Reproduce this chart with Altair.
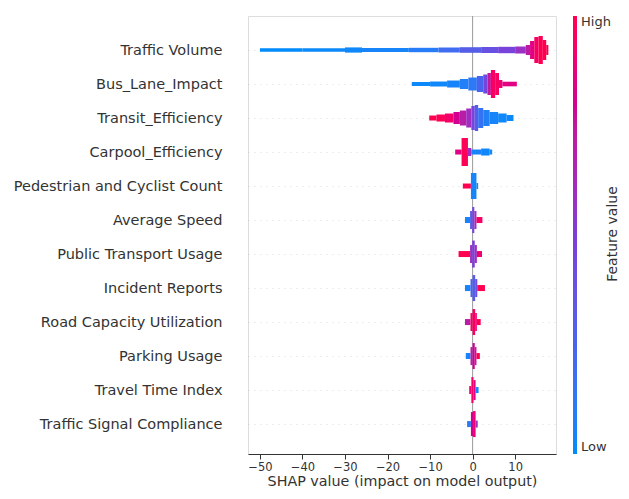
import json
import altair as alt
import pandas as pd

features = [
    "Traffic Volume", "Bus_Lane_Impact", "Transit_Efficiency", "Carpool_Efficiency",
    "Pedestrian and Cyclist Count", "Average Speed", "Public Transport Usage",
    "Incident Reports", "Road Capacity Utilization", "Parking Usage",
    "Travel Time Index", "Traffic Signal Compliance",
]

# per feature: (shap_lo, shap_hi, relative sample density, mean feature value 0..1)
traffic_volume = [(-50, -40, 1.8, 0.0), (-40, -30, 1.8, 0.02), (-30, -26, 2.6, 0.03),
                  (-26, -15, 2.0, 0.05), (-15, -8, 2.2, 0.1), (-8, -3, 2.5, 0.2),
                  (-3, 2, 2.8, 0.3), (2, 6, 3.0, 0.38), (6, 10, 3.2, 0.47), (10, 12.5, 3.5, 0.58),
                  (12.5, 13.5, 5, 0.72), (13.5, 14.5, 9, 0.85), (14.5, 15.5, 13, 0.95),
                  (15.5, 16.5, 14, 1.0), (16.5, 17.3, 10, 1.0), (17.3, 17.8, 5, 1.0)]
bus_lane_impact = [(-14.3, -10, 2, 0.02), (-10, -6, 2.5, 0.03), (-6, -3, 3.5, 0.05),
                   (-3, -1, 5, 0.08), (-1, 1, 6.5, 0.12), (1, 2.5, 8, 0.25), (2.5, 3.5, 9.5, 0.45),
                   (3.5, 4.3, 11, 0.75), (4.3, 5.3, 14, 0.95), (5.3, 6.2, 11, 0.95),
                   (6.2, 7, 4, 0.9), (7, 10.4, 2.3, 0.85)]
transit_efficiency = [(-10.2, -8.5, 2.5, 1.0), (-8.5, -6.5, 3.5, 0.98), (-6.5, -4.5, 4.5, 0.92),
                      (-4.5, -3, 6, 0.8), (-3, -1.5, 7.5, 0.7), (-1.5, -0.3, 9.5, 0.6),
                      (-0.3, 0.5, 12, 0.45), (0.5, 1.3, 13, 0.3), (1.3, 2.5, 10, 0.15),
                      (2.5, 4, 8, 0.08), (4, 6, 6, 0.05), (6, 8, 4.5, 0.03), (8, 9.6, 3, 0.02)]
carpool_efficiency = [(-4.1, -2.6, 2.5, 0.85), (-2.6, -1.1, 14, 0.98), (-1.1, -0.3, 4, 0.6),
                      (-0.3, 2, 2.5, 0.05), (2, 4, 3.5, 0.03), (4, 4.6, 2.5, 0.03)]
pedestrian_cyclist = [(-2.3, -0.4, 2.5, 1.0), (-0.4, 0.9, 13, 0.05), (0.9, 1.3, 3, 0.05)]
average_speed = [(-1.8, -0.6, 3, 0.05), (-0.6, -0.1, 9, 0.3), (-0.1, 0.4, 13, 0.45),
                 (0.4, 0.9, 9, 0.6), (0.9, 2.3, 3, 0.95)]
public_transport = [(-3.3, -0.6, 3, 1.0), (-0.6, -0.1, 9, 0.6), (-0.1, 0.5, 13.5, 0.5),
                    (0.5, 1.0, 9, 0.6), (1.0, 2.2, 3, 0.9)]
incident_reports = [(-1.8, -0.5, 3, 0.05), (-0.5, 0.0, 9, 0.25), (0.0, 0.6, 13, 0.3),
                    (0.6, 1.1, 9, 0.4), (1.1, 2.9, 3, 1.0)]
road_capacity = [(-1.8, -0.5, 3, 0.7), (-0.5, 0.0, 9, 0.95), (0.0, 0.6, 13, 0.95),
                 (0.6, 1.0, 9, 0.9), (1.0, 1.9, 3, 1.0)]
parking_usage = [(-1.6, -0.5, 3, 0.05), (-0.5, 0.0, 9, 0.7), (0.0, 0.5, 13, 0.8),
                 (0.5, 0.9, 9, 0.75), (0.9, 1.7, 3, 1.0)]
travel_time = [(-0.8, -0.3, 4, 0.9), (-0.3, 0.2, 13, 0.95), (0.2, 0.7, 10, 0.85),
               (0.7, 1.4, 3, 0.05)]
signal_compliance = [(-1.3, -0.4, 3, 0.1), (-0.4, 0.1, 12, 0.8), (0.1, 0.7, 13, 0.9),
                     (0.7, 1.2, 3.5, 0.6)]

all_bins = [traffic_volume, bus_lane_impact, transit_efficiency, carpool_efficiency,
            pedestrian_cyclist, average_speed, public_transport, incident_reports,
            road_capacity, parking_usage, travel_time, signal_compliance]

x_ticks = [-50, -40, -30, -20, -10, 0, 10]
legend_title = "Feature value"
cmap_stops = [0, 0.25, 0.5, 0.75, 1]
cmap_colors = ["#008bfb", "#4a63ec", "#7d3dd7", "#c0189c", "#ff0051"]

rows = []
for i, (name, bins) in enumerate(zip(features, all_bins)):
    for lo, hi, dens, fv in bins:
        rows.append({"feature": name, "row": i, "lo": lo, "hi": hi, "dens": dens, "fv": fv})
df = pd.DataFrame(rows)

FONT = "DejaVu Sans"
TXT = "#333333"
W, H = 308, 438
ROW_PX = 34.0

xscale = alt.Scale(domain=[-52.8, 19.6], nice=False, zero=False)
yscale = alt.Scale(domain=[-1, 11.88], reverse=True, nice=False, zero=False)

label_expr = json.dumps(features) + "[datum.value]"

swarm = alt.Chart(df).transform_calculate(
    y0=f"datum.row - datum.dens / {ROW_PX}",
    y1=f"datum.row + datum.dens / {ROW_PX}",
).mark_rect().encode(
    x=alt.X("lo:Q", scale=xscale,
            axis=alt.Axis(values=x_ticks, title="SHAP value (impact on model output)",
                          grid=False, tickSize=5, labelFontSize=11.5, labelPadding=2,
                          titleFontSize=14.3, titleFontWeight="normal", titleColor=TXT,
                          labelColor=TXT, domainColor=TXT, tickColor=TXT, titlePadding=2)),
    x2="hi:Q",
    y=alt.Y("y0:Q", scale=yscale,
            axis=alt.Axis(values=list(range(len(features))), labelExpr=label_expr,
                          title=None, domain=False, ticks=False, labelFontSize=14.5,
                          labelLimit=500, labelColor=TXT, labelPadding=26, grid=True,
                          gridDash=[1, 5], gridColor="#cccccc", gridWidth=0.7)),
    y2="y1:Q",
    color=alt.Color("fv:Q",
                    scale=alt.Scale(domain=cmap_stops, range=cmap_colors),
                    legend=alt.Legend(title=None, values=[0, 1],
                                      labelExpr="datum.value == 1 ? 'High' : 'Low'",
                                      gradientLength=H, gradientThickness=4,
                                      gradientStrokeWidth=0, labelFontSize=13,
                                      labelBaseline="middle",
                                      labelColor=TXT, offset=17, labelOffset=4)),
)

zero = alt.Chart(pd.DataFrame({"z": [0]})).mark_rule(color="#999999", strokeWidth=1).encode(
    x=alt.X("z:Q", scale=xscale)
)

title_txt = alt.Chart(pd.DataFrame({"t": [legend_title]})).mark_text(
    angle=270, fontSize=14, color=TXT, baseline="middle", align="center"
).encode(x=alt.value(W + 57), y=alt.value(H / 2 - 1), text="t:N")

chart = alt.layer(zero, swarm, title_txt).properties(
    width=W, height=H,
    padding={"left": 5, "top": 7, "right": 0, "bottom": 0},
).configure_view(stroke=None).configure(font=FONT)

chart.save("out.html", embed_options={"renderer": "svg", "actions": False})
